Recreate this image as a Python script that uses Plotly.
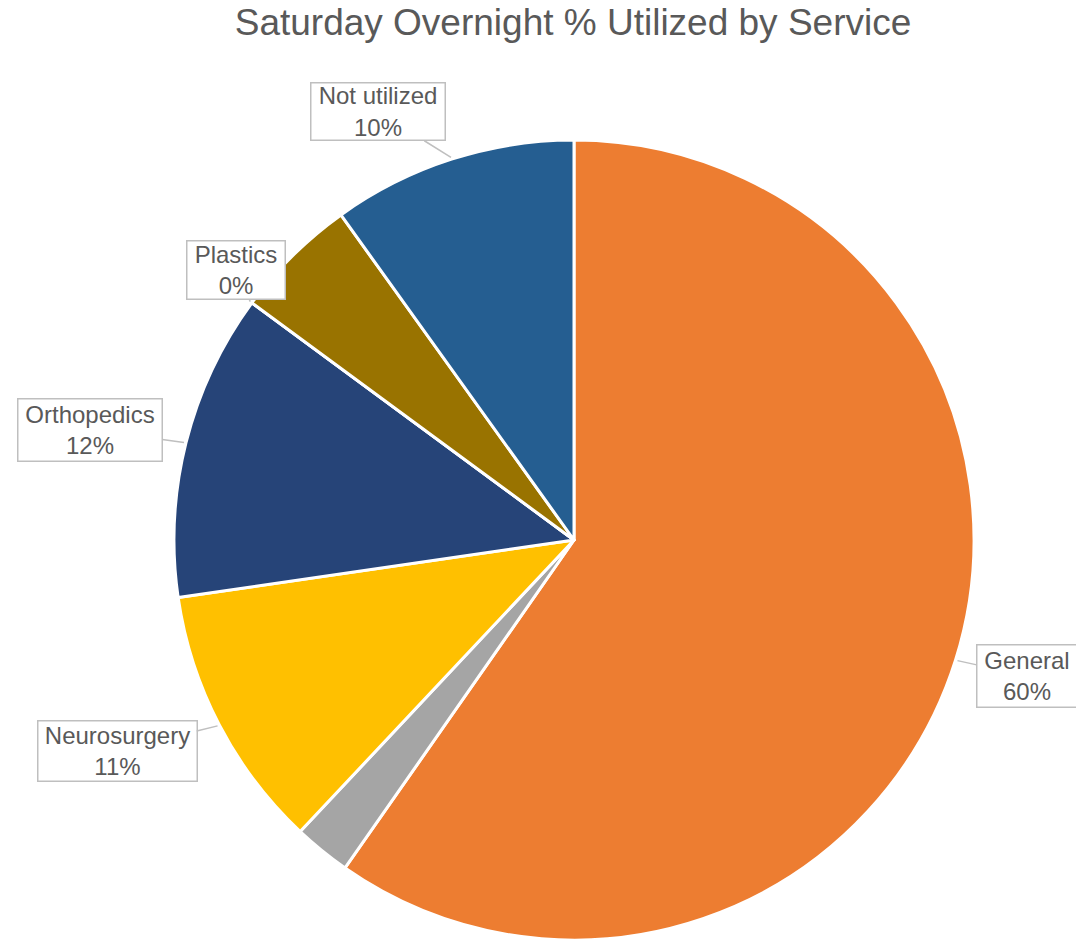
import math
import plotly.graph_objects as go

# Service share of Saturday overnight capacity, in drawing order (clockwise from 12 o'clock)
services = ["General", "Other", "Neurosurgery", "Orthopedics", "Plastics", "Unassigned", "Not utilized"]
share = [59.7, 2.3, 10.7, 12.4, 0.0, 5.0, 9.9]
show_label = [True, False, True, True, True, False, True]

colors = ["#ED7D31", "#A5A5A5", "#FFC000", "#264478", "#636363", "#997300", "#255E91"]

W, H = 1076, 940
CX, CY, R = 574, 540, 400

# callout box centre and size (px) per labelled service
callout = {
    "General": (1027, 676, 102, 64),
    "Neurosurgery": (117, 751, 161, 62),
    "Orthopedics": (90, 430, 146, 64),
    "Plastics": (236, 270, 100, 60),
    "Not utilized": (378, 112, 136, 59),
}

fig = go.Figure(
    go.Pie(
        labels=services,
        values=share,
        sort=False,
        direction="clockwise",
        rotation=0,
        marker=dict(colors=colors, line=dict(color="white", width=3)),
        textinfo="none",
        domain=dict(x=[(CX - R) / W, (CX + R) / W], y=[1 - (CY + R) / H, 1 - (CY - R) / H]),
        showlegend=False,
    )
)

total = sum(share)
annotations = []
cum = 0.0
for name, v, lab in zip(services, share, show_label):
    mid = (cum + v / 2) / total * 2 * math.pi
    cum += v
    if not lab:
        continue
    tx = CX + (R + 2) * math.sin(mid)
    ty = CY - (R + 2) * math.cos(mid)
    bx, by, bw, bh = callout[name]
    annotations.append(
        dict(
            x=tx / W,
            y=1 - ty / H,
            xref="paper",
            yref="paper",
            ax=bx - tx,
            ay=by - ty,
            showarrow=True,
            arrowhead=0,
            arrowwidth=1.5,
            arrowcolor="#BFBFBF",
            text=f"{name}<br>{v / total * 100:.0f}%",
            font=dict(family="Liberation Sans, Arial, sans-serif", size=24, color="#595959"),
            bgcolor="white",
            bordercolor="#BFBFBF",
            borderwidth=1.5,
            borderpad=2,
            width=bw - 7,
            height=bh - 7,
            align="center",
        )
    )

fig.update_layout(
    width=W,
    height=H,
    margin=dict(l=0, r=0, t=0, b=0),
    paper_bgcolor="white",
    title=dict(
        text="Saturday Overnight % Utilized by Service",
        x=573 / W,
        xanchor="center",
        xref="paper",
        y=1 - 22 / H,
        yref="container",
        yanchor="middle",
        font=dict(family="Liberation Sans, Arial, sans-serif", size=37, color="#595959"),
    ),
    annotations=annotations,
)

fig.write_html("out.html")
